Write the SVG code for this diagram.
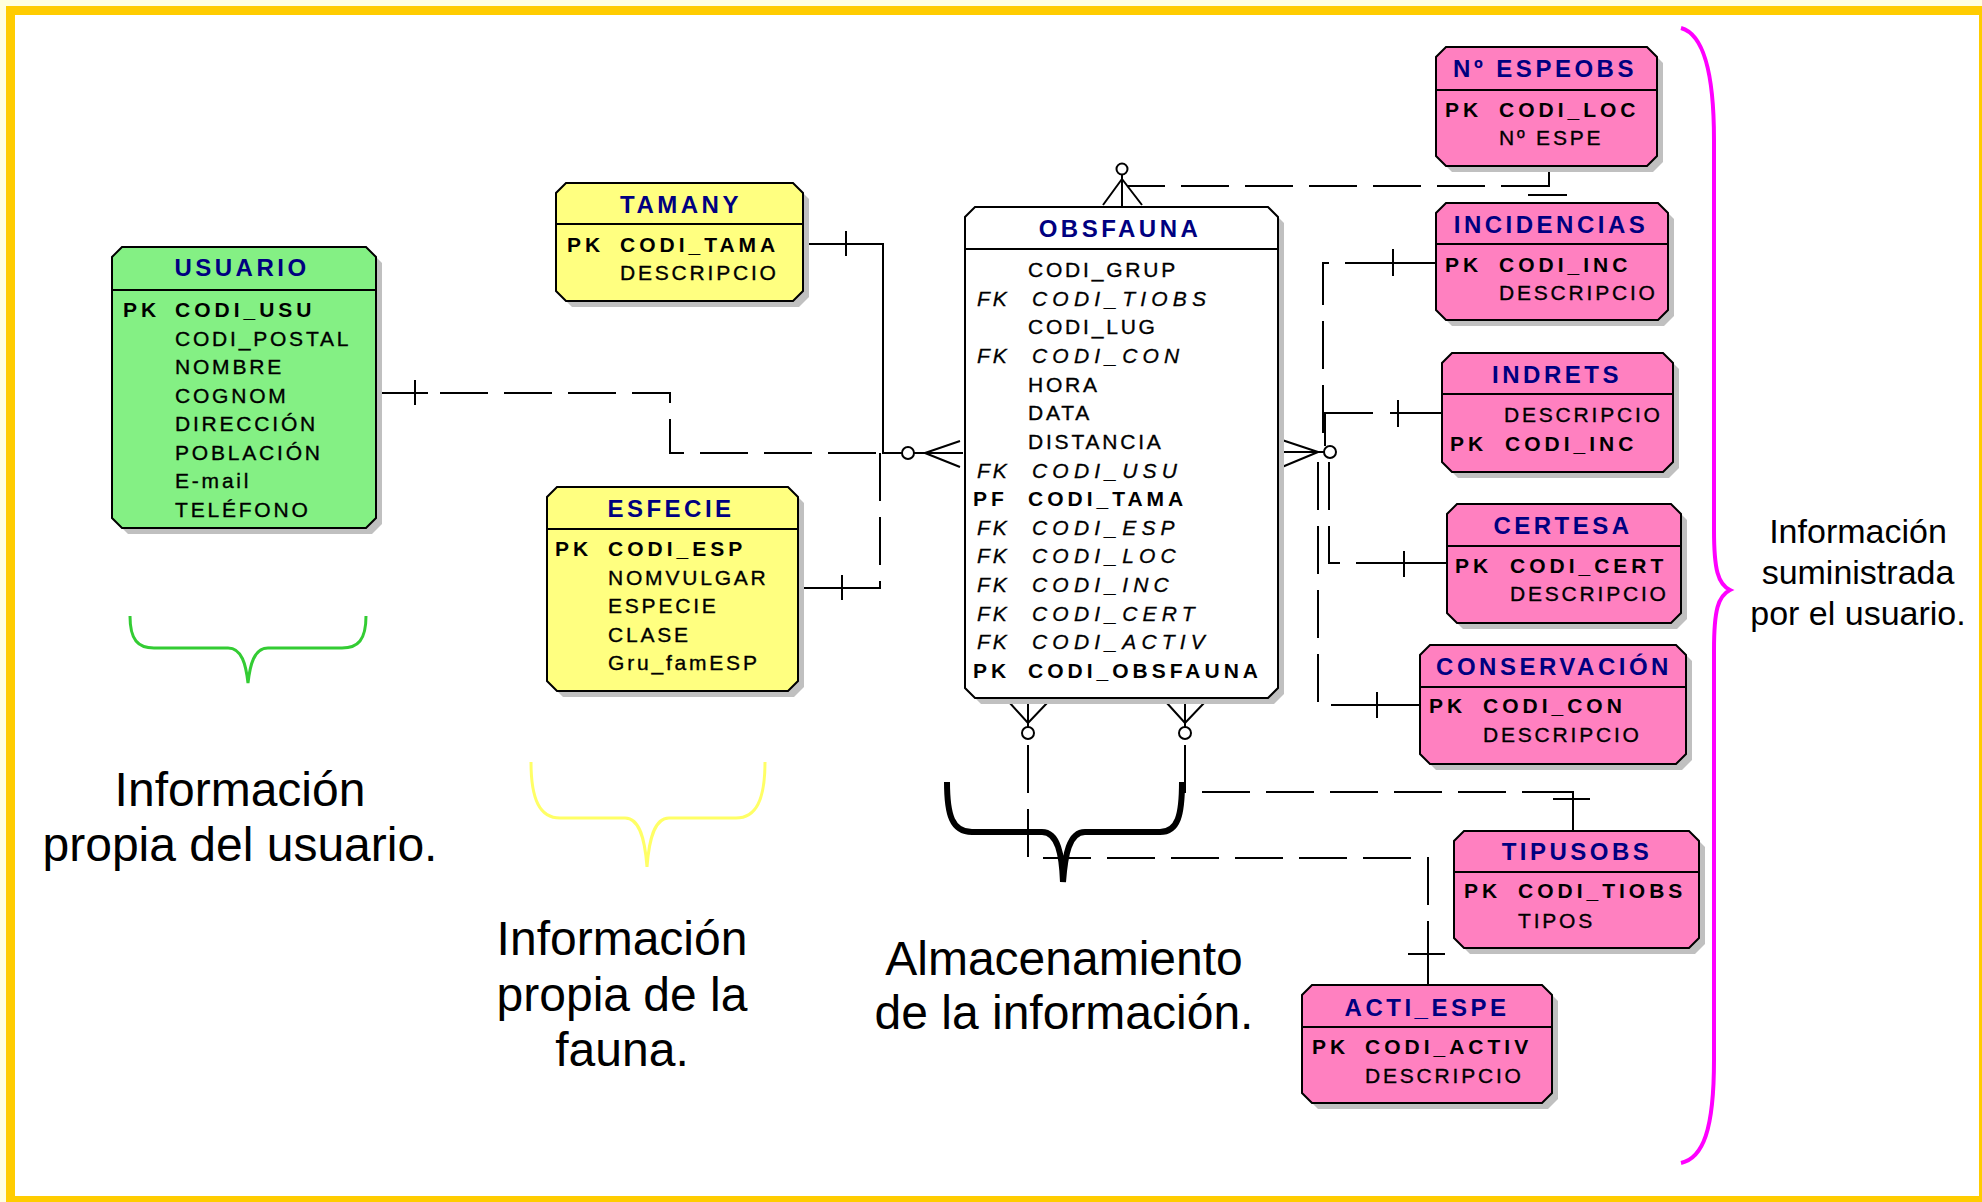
<svg xmlns="http://www.w3.org/2000/svg" width="1982" height="1202" viewBox="0 0 1982 1202">
<style>
.sh{fill:#c0c0c0}
.bx{stroke:#000;stroke-width:2}
.g{fill:#84f084}.y{fill:#ffff80}.p{fill:#ff80c0}.w{fill:#fff}
.sep{stroke:#000;stroke-width:2}
text{font-family:"Liberation Sans",Arial,sans-serif}
.t{font-size:24px;font-weight:bold;fill:#000080;text-anchor:middle;letter-spacing:3.5px}
.r{font-size:21px;letter-spacing:2.8px;fill:#000;stroke:#000;stroke-width:0.35}
.b{font-size:21px;font-weight:bold;letter-spacing:4px;fill:#000}
.i{font-size:21px;font-style:italic;letter-spacing:5.2px;fill:#000;stroke:#000;stroke-width:0.3}
.k{font-size:21px;font-weight:bold;letter-spacing:4px;fill:#000}
.fk{font-size:21px;font-style:italic;letter-spacing:3px;fill:#000;stroke:#000;stroke-width:0.3}
.big{font-size:48px;text-anchor:middle;fill:#000}
.med{font-size:34px;text-anchor:middle;fill:#000}
.c{stroke:#000;stroke-width:2;fill:none}
.d{stroke:#000;stroke-width:2;fill:none;stroke-dasharray:48 16}
.o{stroke:#000;stroke-width:2;fill:#fff}
</style>
<rect x="0" y="0" width="1982" height="1202" fill="#ffffe0"/>
<rect x="10.5" y="10.5" width="1973" height="1190" fill="#fff" stroke="#ffcc00" stroke-width="9"/>

<g id="connectors">
  <!-- USUARIO - OBSFAUNA -->
  <path class="d" d="M376,393 H670 V453 H883"/>
  <path class="c" d="M376,393 H428 M415,380 V405"/>
  <!-- TAMANY - OBSFAUNA -->
  <path class="c" d="M803,244 H883 V453 H963 M846,231 V256"/>
  <!-- ESFECIE - OBSFAUNA -->
  <path class="d" d="M880,453 V588 H798"/>
  <path class="c" d="M880,453 V482 M798,588 H850 M842,575 V600"/>
  <circle class="o" cx="908" cy="453" r="6"/>
  <path class="c" d="M925,453 L960,441 M925,453 L960,467"/>
  <!-- NºESPEOBS - OBSFAUNA (top) -->
  <path class="d" d="M1549,186 H1128"/>
  <path class="c" d="M1549,166 V186 H1530 M1528,195 H1567"/>
  <path class="c" d="M1122,175 V207 M1122,179 L1103,205 M1122,179 L1142,205"/>
  <circle class="o" cx="1122" cy="169" r="5.5"/>
  <!-- INCIDENCIAS -->
  <path class="d" d="M1323,433 V263 H1436"/>
  <path class="c" d="M1385,263 H1436 M1393,249 V276"/>
  <!-- INDRETS -->
  <path class="c" d="M1442,413 H1390 M1373,413 H1325 V446 M1398,400 V427"/>
  <!-- CERTESA -->
  <path class="d" d="M1329,462 V563 H1447"/>
  <path class="c" d="M1393,563 H1447 M1404,551 V577"/>
  <!-- CONSERVACION -->
  <path class="d" d="M1318,462 V705 H1420"/>
  <path class="c" d="M1372,705 H1420 M1377,692 V718"/>
  <!-- right crow's foot on OBSFAUNA -->
  <path class="c" d="M1278,452 H1324 M1318,452 L1282,440 M1318,452 L1282,467"/>
  <circle class="o" cx="1330" cy="452" r="6"/>
  <!-- TIPUSOBS -->
  <path class="d" d="M1185,745 V792 H1573"/>
  <path class="c" d="M1540,792 H1573 V831 M1553,799 H1590"/>
  <!-- ACTI_ESPE -->
  <path class="d" d="M1028,745 V858 H1428 V954"/>
  <path class="c" d="M1428,954 V985 M1408,954 H1445"/>
  <!-- bottom crow's feet -->
  <path class="c" d="M1028,698 V727 M1009,702 L1028,723 L1048,702"/>
  <circle class="o" cx="1028" cy="733" r="6"/>
  <path class="c" d="M1185,698 V727 M1166,702 L1185,723 L1205,702"/>
  <circle class="o" cx="1185" cy="733" r="6"/>
</g>

<g id="usuario">
  <polygon class="sh" transform="translate(6,6)" points="122,247 366,247 376,257 376,518 366,528 122,528 112,518 112,257"/>
  <polygon class="bx g" points="122,247 366,247 376,257 376,518 366,528 122,528 112,518 112,257"/>
  <path class="sep" d="M112,290 H376"/>
  <text class="t" x="242" y="276">USUARIO</text>
  <text class="k" x="123" y="317">PK</text><text class="b" x="175" y="317">CODI_USU</text>
  <text class="r" x="175" y="345.5">CODI_POSTAL</text>
  <text class="r" x="175" y="374">NOMBRE</text>
  <text class="r" x="175" y="402.5">COGNOM</text>
  <text class="r" x="175" y="431">DIRECCIÓN</text>
  <text class="r" x="175" y="459.5">POBLACIÓN</text>
  <text class="r" x="175" y="488">E-mail</text>
  <text class="r" x="175" y="516.5">TELÉFONO</text>
</g>

<g id="tamany">
  <polygon class="sh" transform="translate(6,6)" points="566,183 793,183 803,193 803,291 793,301 566,301 556,291 556,193"/>
  <polygon class="bx y" points="566,183 793,183 803,193 803,291 793,301 566,301 556,291 556,193"/>
  <path class="sep" d="M556,224 H803"/>
  <text class="t" x="681" y="213">TAMANY</text>
  <text class="k" x="567" y="252">PK</text><text class="b" x="620" y="252">CODI_TAMA</text>
  <text class="r" x="620" y="280">DESCRIPCIO</text>
</g>

<g id="esfecie">
  <polygon class="sh" transform="translate(6,6)" points="557,487 788,487 798,497 798,681 788,691 557,691 547,681 547,497"/>
  <polygon class="bx y" points="557,487 788,487 798,497 798,681 788,691 557,691 547,681 547,497"/>
  <path class="sep" d="M547,529 H798"/>
  <text class="t" x="671" y="517">ESFECIE</text>
  <text class="k" x="555" y="556">PK</text><text class="b" x="608" y="556">CODI_ESP</text>
  <text class="r" x="608" y="584.5">NOMVULGAR</text>
  <text class="r" x="608" y="613">ESPECIE</text>
  <text class="r" x="608" y="641.5">CLASE</text>
  <text class="r" x="608" y="670">Gru_famESP</text>
</g>

<g id="obsfauna">
  <polygon class="sh" transform="translate(6,6)" points="975,207 1268,207 1278,217 1278,688 1268,698 975,698 965,688 965,217"/>
  <polygon class="bx w" points="975,207 1268,207 1278,217 1278,688 1268,698 975,698 965,688 965,217"/>
  <path class="sep" d="M965,249 H1278"/>
  <text class="t" x="1120" y="237">OBSFAUNA</text>
  <text class="r" x="1028" y="277">CODI_GRUP</text>
  <text class="fk" x="977" y="305.6">FK</text><text class="i" x="1032" y="305.6">CODI_TIOBS</text>
  <text class="r" x="1028" y="334.3">CODI_LUG</text>
  <text class="fk" x="977" y="362.9">FK</text><text class="i" x="1032" y="362.9">CODI_CON</text>
  <text class="r" x="1028" y="391.6">HORA</text>
  <text class="r" x="1028" y="420.2">DATA</text>
  <text class="r" x="1028" y="448.8">DISTANCIA</text>
  <text class="fk" x="977" y="477.5">FK</text><text class="i" x="1032" y="477.5">CODI_USU</text>
  <text class="k" x="973" y="506.1">PF</text><text class="b" x="1028" y="506.1">CODI_TAMA</text>
  <text class="fk" x="977" y="534.8">FK</text><text class="i" x="1032" y="534.8">CODI_ESP</text>
  <text class="fk" x="977" y="563.4">FK</text><text class="i" x="1032" y="563.4">CODI_LOC</text>
  <text class="fk" x="977" y="592">FK</text><text class="i" x="1032" y="592">CODI_INC</text>
  <text class="fk" x="977" y="620.7">FK</text><text class="i" x="1032" y="620.7">CODI_CERT</text>
  <text class="fk" x="977" y="649.3">FK</text><text class="i" x="1032" y="649.3">CODI_ACTIV</text>
  <text class="k" x="973" y="678">PK</text><text class="b" x="1028" y="678">CODI_OBSFAUNA</text>
</g>

<g id="espeobs">
  <polygon class="sh" transform="translate(6,6)" points="1446,47 1647,47 1657,57 1657,156 1647,166 1446,166 1436,156 1436,57"/>
  <polygon class="bx p" points="1446,47 1647,47 1657,57 1657,156 1647,166 1446,166 1436,156 1436,57"/>
  <path class="sep" d="M1436,90 H1657"/>
  <text class="t" x="1545" y="77">Nº ESPEOBS</text>
  <text class="k" x="1445" y="117">PK</text><text class="b" x="1499" y="117">CODI_LOC</text>
  <text class="r" x="1499" y="145">Nº ESPE</text>
</g>

<g id="incidencias">
  <polygon class="sh" transform="translate(6,6)" points="1446,203 1658,203 1668,213 1668,310 1658,320 1446,320 1436,310 1436,213"/>
  <polygon class="bx p" points="1446,203 1658,203 1668,213 1668,310 1658,320 1446,320 1436,310 1436,213"/>
  <path class="sep" d="M1436,244 H1668"/>
  <text class="t" x="1551" y="233">INCIDENCIAS</text>
  <text class="k" x="1445" y="272">PK</text><text class="b" x="1499" y="272">CODI_INC</text>
  <text class="r" x="1499" y="300">DESCRIPCIO</text>
</g>

<g id="indrets">
  <polygon class="sh" transform="translate(6,6)" points="1452,353 1663,353 1673,363 1673,462 1663,472 1452,472 1442,462 1442,363"/>
  <polygon class="bx p" points="1452,353 1663,353 1673,363 1673,462 1663,472 1452,472 1442,462 1442,363"/>
  <path class="sep" d="M1442,394 H1673"/>
  <text class="t" x="1557" y="383">INDRETS</text>
  <text class="r" x="1504" y="422">DESCRIPCIO</text>
  <text class="k" x="1450" y="451">PK</text><text class="b" x="1505" y="451">CODI_INC</text>
</g>

<g id="certesa">
  <polygon class="sh" transform="translate(6,6)" points="1457,504 1671,504 1681,514 1681,613 1671,623 1457,623 1447,613 1447,514"/>
  <polygon class="bx p" points="1457,504 1671,504 1681,514 1681,613 1671,623 1457,623 1447,613 1447,514"/>
  <path class="sep" d="M1447,546 H1681"/>
  <text class="t" x="1563" y="534">CERTESA</text>
  <text class="k" x="1455" y="573">PK</text><text class="b" x="1510" y="573">CODI_CERT</text>
  <text class="r" x="1510" y="601">DESCRIPCIO</text>
</g>

<g id="conservacion">
  <polygon class="sh" transform="translate(6,6)" points="1430,645 1676,645 1686,655 1686,754 1676,764 1430,764 1420,754 1420,655"/>
  <polygon class="bx p" points="1430,645 1676,645 1686,655 1686,754 1676,764 1430,764 1420,754 1420,655"/>
  <path class="sep" d="M1420,687 H1686"/>
  <text class="t" x="1554" y="675">CONSERVACIÓN</text>
  <text class="k" x="1429" y="713">PK</text><text class="b" x="1483" y="713">CODI_CON</text>
  <text class="r" x="1483" y="742">DESCRIPCIO</text>
</g>

<g id="tipusobs">
  <polygon class="sh" transform="translate(6,6)" points="1464,831 1689,831 1699,841 1699,938 1689,948 1464,948 1454,938 1454,841"/>
  <polygon class="bx p" points="1464,831 1689,831 1699,841 1699,938 1689,948 1464,948 1454,938 1454,841"/>
  <path class="sep" d="M1454,872 H1699"/>
  <text class="t" x="1577" y="860">TIPUSOBS</text>
  <text class="k" x="1464" y="898">PK</text><text class="b" x="1518" y="898">CODI_TIOBS</text>
  <text class="r" x="1518" y="928">TIPOS</text>
</g>

<g id="actiespe">
  <polygon class="sh" transform="translate(6,6)" points="1312,985 1542,985 1552,995 1552,1093 1542,1103 1312,1103 1302,1093 1302,995"/>
  <polygon class="bx p" points="1312,985 1542,985 1552,995 1552,1093 1542,1103 1312,1103 1302,1093 1302,995"/>
  <path class="sep" d="M1302,1027 H1552"/>
  <text class="t" x="1427" y="1016">ACTI_ESPE</text>
  <text class="k" x="1312" y="1054">PK</text><text class="b" x="1365" y="1054">CODI_ACTIV</text>
  <text class="r" x="1365" y="1083">DESCRIPCIO</text>
</g>

<g id="braces">
  <path d="M130,616 C130,640 138,648 154,648 L228,648 C242,648 246,665 248,683 C250,665 254,648 268,648 L342,648 C358,648 366,640 366,616" fill="none" stroke="#33cc33" stroke-width="3"/>
  <path d="M531,762 C531,800 540,818 560,818 L625,818 C640,818 645,840 647,867 C649,840 654,818 669,818 L736,818 C756,818 765,800 765,762" fill="none" stroke="#ffff66" stroke-width="3"/>
  <path d="M947,782 C947,815 952,832 972,832 L1042,832 C1058,832 1062,855 1063,882 C1065,855 1069,832 1085,832 L1160,832 C1178,832 1182,815 1182,782" fill="none" stroke="#000" stroke-width="6"/>
  <path d="M1681,28 C1703,34 1714,70 1714,140 L1714,530 C1714,570 1718,584 1730,590 C1718,596 1714,610 1714,650 L1714,1060 C1714,1130 1703,1158 1681,1163" fill="none" stroke="#ff00ff" stroke-width="4"/>
</g>

<g id="labels">
  <text class="big" x="240" y="806">Información</text>
  <text class="big" x="240" y="861">propia del usuario.</text>
  <text class="big" x="622" y="955">Información</text>
  <text class="big" x="622" y="1011">propia de la</text>
  <text class="big" x="622" y="1066">fauna.</text>
  <text class="big" x="1064" y="975">Almacenamiento</text>
  <text class="big" x="1064" y="1029">de la información.</text>
  <text class="med" x="1858" y="543">Información</text>
  <text class="med" x="1858" y="584">suministrada</text>
  <text class="med" x="1858" y="625">por el usuario.</text>
</g>
</svg>
